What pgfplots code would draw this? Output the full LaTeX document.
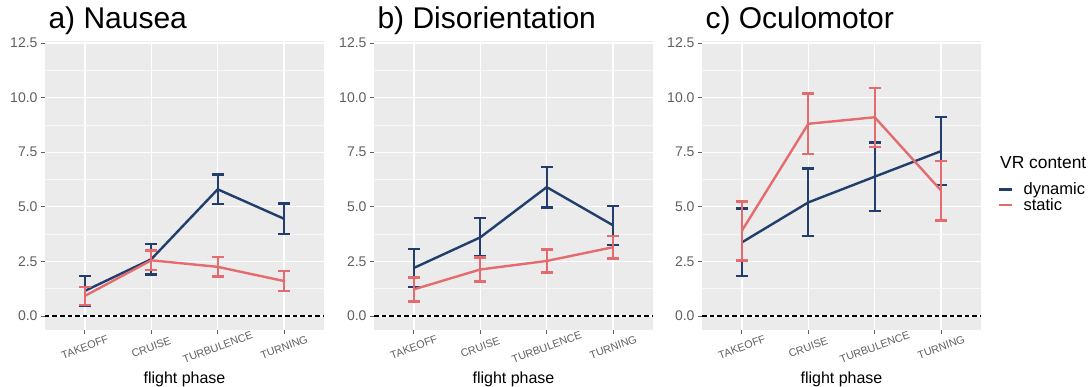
\documentclass[border=0pt]{standalone}
\usepackage{pgfplots}
\pgfplotsset{compat=1.18}
\usepackage{fontspec}
\setmainfont{Liberation Sans}
\definecolor{dyn}{RGB}{33,62,108}
\definecolor{sta}{RGB}{228,108,110}
\definecolor{panel}{RGB}{235,235,235}
\definecolor{tickgray}{RGB}{95,95,95}

\pgfplotstableread{
x y e
1 1.15 0.68
2 2.60 0.70
3 5.80 0.68
4 4.45 0.70
}\nauseadyn
\pgfplotstableread{
x y e
1 0.92 0.42
2 2.55 0.45
3 2.25 0.45
4 1.60 0.45
}\nauseasta
\pgfplotstableread{
x y e
1 2.20 0.87
2 3.60 0.88
3 5.90 0.93
4 4.15 0.90
}\disodyn
\pgfplotstableread{
x y e
1 1.22 0.55
2 2.13 0.55
3 2.52 0.53
4 3.15 0.52
}\disosta
\pgfplotstableread{
x y e
1 3.37 1.55
2 5.20 1.55
3 6.38 1.56
4 7.55 1.55
}\oculodyn
\pgfplotstableread{
x y e
1 3.90 1.35
2 8.80 1.38
3 9.10 1.35
4 5.74 1.37
}\oculosta

\pgfplotsset{
  myax/.style={
    scale only axis, width=279pt, height=289.4pt,
    xmin=0.4, xmax=4.6, ymin=-0.65, ymax=12.6,
    axis line style={draw=none},
    axis background/.style={fill=panel},
    xtick={1,2,3,4}, xticklabels={TAKEOFF,CRUISE,TURBULENCE,TURNING},
    ytick={0,2.5,5,7.5,10,12.5},
    minor ytick={1.25,3.75,6.25,8.75,11.25},
    grid=both,
    major grid style={white, line width=1.3pt},
    minor grid style={white!60!panel, line width=0.6pt},
    tick align=outside, major tick length=4pt, minor tick length=0pt,
    tick style={tickgray, line width=0.8pt},
    tick pos=left,
    yticklabel style={font=\fontsize{14}{14}\selectfont, text=tickgray},
    /pgf/number format/fixed, /pgf/number format/fixed zerofill,
    /pgf/number format/precision=1, /pgf/number format/assume math mode=true,
    xticklabel style={font=\fontsize{10.8}{10.8}\selectfont, text=tickgray, anchor=center, yshift=-13pt, rotate=20},
    xlabel={flight phase},
    xlabel style={font=\fontsize{16}{16}\selectfont, at={(axis description cs:0.5,0)}, anchor=base, yshift=-53pt},
    title style={font=\fontsize{30}{30}\selectfont, at={(axis description cs:0,1)}, anchor=base west, yshift=5.8pt},
  },
  dynst/.style={dyn, line width=2.4pt, mark=none,
    error bars/.cd, y dir=both, y explicit,
    error bar style={dyn, line width=2.4pt},
    error mark options={rotate=90, dyn, mark size=6pt, line width=2.4pt}},
  stast/.style={sta, line width=2.4pt, mark=none,
    error bars/.cd, y dir=both, y explicit,
    error bar style={sta, line width=2.4pt},
    error mark options={rotate=90, sta, mark size=6pt, line width=2.4pt}},
  zeroline/.style={black, line width=1.5pt, dash pattern=on 4.5pt off 3pt, forget plot},
}

\begin{document}
\begin{tikzpicture}
\path[use as bounding box] (0,0) rectangle (1088pt,-387pt);

\begin{axis}[myax, at={(45pt,-330.2pt)}, anchor=south west, title={a) Nausea}]
\addplot[dynst] table[x=x, y=y, y error=e] {\nauseadyn};
\addplot[stast] table[x=x, y=y, y error=e] {\nauseasta};
\addplot[zeroline] coordinates {(0.4,0) (4.6,0)};
\end{axis}

\begin{axis}[myax, at={(374pt,-330.2pt)}, anchor=south west, title={b) Disorientation}]
\addplot[dynst] table[x=x, y=y, y error=e] {\disodyn};
\addplot[stast] table[x=x, y=y, y error=e] {\disosta};
\addplot[zeroline] coordinates {(0.4,0) (4.6,0)};
\end{axis}

\begin{axis}[myax, at={(702pt,-330.2pt)}, anchor=south west, title={c) Oculomotor},
  legend style={at={(axis description cs:1,0.52)}, anchor=north west, xshift=14pt,
    draw=none, fill=none, font=\fontsize{16.5}{16.5}\selectfont, row sep=0pt,
    column sep=9pt, nodes={inner sep=1pt}},
  legend cell align=left,
  legend image code/.code={\draw[#1, line width=2.4pt] (0pt,0pt) -- (13pt,0pt);}]
\addplot[forget plot, dynst] table[x=x, y=y, y error=e] {\oculodyn};
\addplot[forget plot, stast] table[x=x, y=y, y error=e] {\oculosta};
\addplot[zeroline] coordinates {(0.4,0) (4.6,0)};
\addlegendimage{dyn}
\addlegendentry{dynamic}
\addlegendimage{sta}
\addlegendentry{static}
\end{axis}

\node[anchor=base west, font=\fontsize{17.4}{17.4}\selectfont, inner sep=0pt] at (1000pt,-169pt) {VR content};
\end{tikzpicture}
\end{document}
